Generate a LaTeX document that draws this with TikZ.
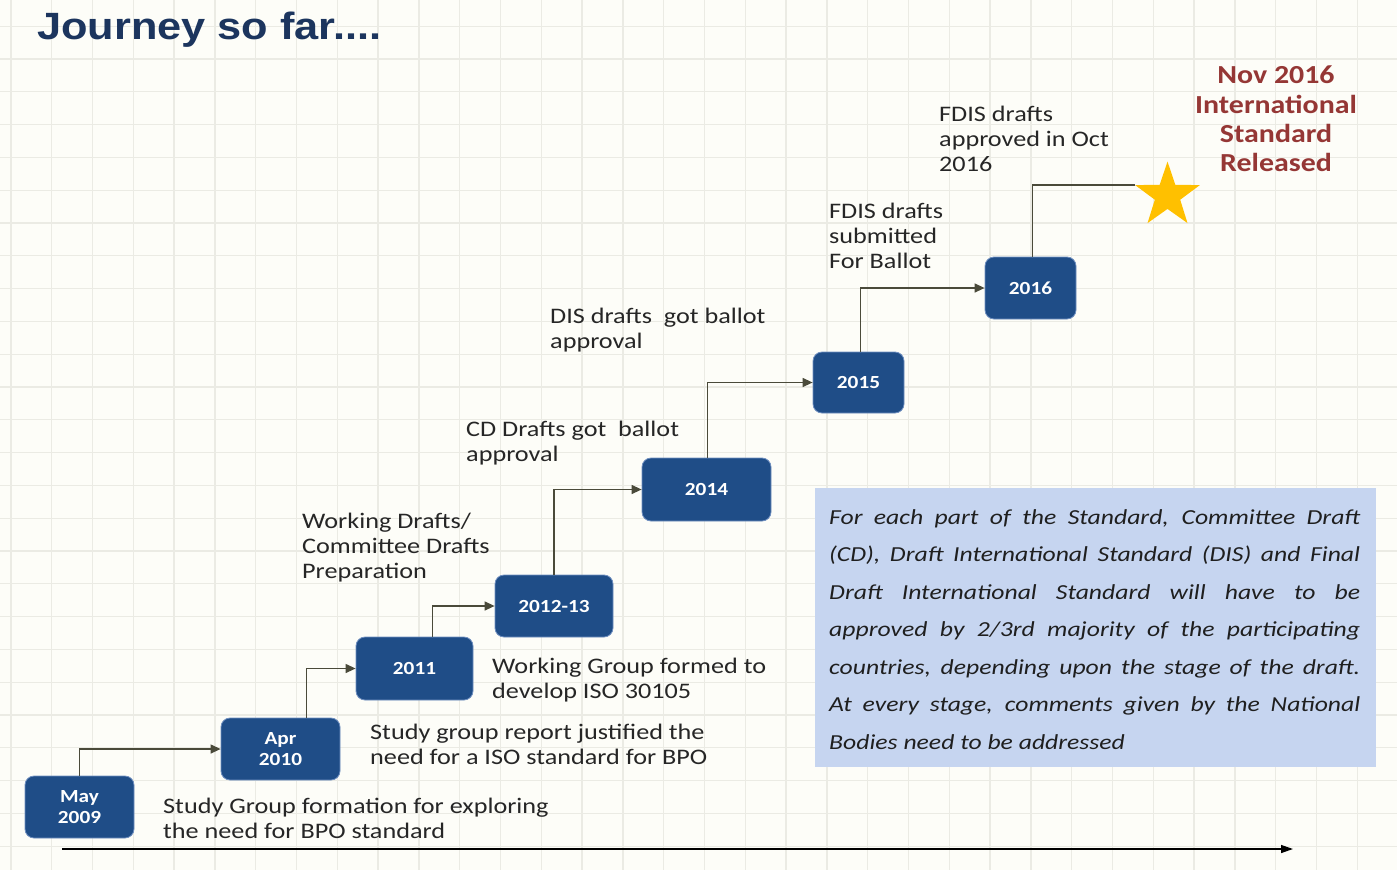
\documentclass[tikz,border=0pt]{standalone}
\usepackage{fontspec}
\setmainfont{Carlito}[FakeStretch=1.15]
\newfontfamily\labfont{Carlito}[FakeStretch=1.18]
\newfontfamily\notefont{Carlito}[FakeStretch=1.2]
\newfontfamily\titlefont{Liberation Sans}[FakeStretch=1.14]
\usetikzlibrary{arrows.meta,shapes.geometric}
\definecolor{bg}{HTML}{FDFDF8}
\definecolor{gridc}{HTML}{EBEBE4}
\definecolor{boxblue}{HTML}{1F4D87}
\definecolor{boxedge}{HTML}{6F8FC0}
\definecolor{conncol}{HTML}{4A4A3A}
\definecolor{navy}{HTML}{1C355E}
\definecolor{darkred}{HTML}{953735}
\definecolor{notefill}{HTML}{C6D5F0}
\definecolor{gold}{HTML}{FFC000}
\definecolor{labtext}{HTML}{262626}
\begin{document}
\begin{tikzpicture}[x=1pt,y=-1pt,
  gridline/.style={draw=gridc, line width=1.3pt},
  yearbox/.style={rounded corners=9pt, fill=boxblue, draw=boxedge, line width=0.8pt,
    text=white, font=\bfseries\fontsize{18.5}{21}\selectfont, align=center, inner sep=0pt},
  lab/.style={anchor=west, align=left, inner sep=0pt, text=labtext,
    font=\labfont\fontsize{22.2}{25}\selectfont},
  conn/.style={draw=conncol, line width=1.3pt, -{Triangle[length=10pt,width=9pt]}},
  plainconn/.style={draw=conncol, line width=1.3pt},
  timeline/.style={draw=black, line width=1.3pt, -{Triangle[length=12pt,width=8pt]}}
]
\useasboundingbox (0,0) rectangle (1397,870);
\fill[bg] (0,0) rectangle (1397,870);
\foreach \i in {0,...,34} \draw[gridline] ({10.9+40.8*\i},0) -- ({10.9+40.8*\i},870);
\foreach \j in {0,...,26} \draw[gridline] (0,{26.2+32.8*\j}) -- (1397,{26.2+32.8*\j});

% title
\node[anchor=base west, inner sep=0pt, text=navy,
  font=\titlefont\bfseries\fontsize{38}{40}\selectfont] (title) at (37,39) {Journey so far....};

% year boxes
\node[yearbox, minimum width=109pt, minimum height=62pt] (may) at (79.5,807) {May\\2009};
\node[yearbox, minimum width=119pt, minimum height=62pt] (apr) at (280.5,749) {Apr\\2010};
\node[yearbox, minimum width=117pt, minimum height=63pt] (y11) at (414.5,668.5) {2011};
\node[yearbox, minimum width=118pt, minimum height=62pt] (y1213) at (554,606) {2012-13};
\node[yearbox, minimum width=129pt, minimum height=63pt] (y14) at (706.5,489.5) {2014};
\node[yearbox, minimum width=91pt, minimum height=61pt] (y15) at (858.5,382.5) {2015};
\node[yearbox, minimum width=91pt, minimum height=62pt] (y16) at (1030.5,288) {2016};

% star
\node[star, star points=5, star point ratio=2.55, minimum size=68pt, inner sep=0pt,
  fill=gold, draw=none] (star) at (1167.5,195.6) {};

% connectors
\draw[conn] (may.north) |- (apr.west);
\draw[conn] ([xshift=26pt]apr.north) |- (y11.west);
\draw[conn] ([xshift=18pt]y11.north) |- (y1213.west);
\draw[conn] (y1213.north) |- (y14.west);
\draw[conn] ([xshift=1pt]y14.north) |- (y15.west);
\draw[conn] ([xshift=2pt]y15.north) |- (y16.west);
\draw[plainconn] ([xshift=2pt]y16.north) |- (star.outer point 2);

% labels
\node[lab] (l1) at (163,818) {Study Group formation for exploring\\the need for BPO standard};
\node[lab] (l2) at (370,744) {Study group report justified the\\need for a ISO standard for BPO};
\node[lab] (l3) at (492,680) {Working Group formed to\\develop ISO 30105};
\node[lab] (l4) at (302,548) {Working Drafts/\\Committee Drafts\\Preparation};
\node[lab] (l5) at (466,443) {CD Drafts got\ \ ballot\\approval};
\node[lab] (l6) at (550,330) {DIS drafts\ \ got ballot\\approval};
\node[lab] (l7) at (829,236) {FDIS drafts\\submitted\\For Ballot};
\node[lab] (l8) at (939,139) {FDIS drafts\\approved in Oct\\2016};
\node[align=center, inner sep=0pt, text=darkred,
  font=\bfseries\fontsize{26}{29.3}\selectfont] (release) at (1276,119)
  {Nov 2016\\International\\Standard\\Released};

% note box
\node[anchor=north west, fill=notefill, minimum width=561pt, minimum height=279pt,
  inner sep=0pt] (note) at (815,488) {};
\node[anchor=north west, inner sep=0pt, text width=531pt, align=justify, text=black!88,
  font=\notefont\itshape\fontsize{21.4}{37.5}\selectfont] (notetext) at (829,509)
  {\hyphenpenalty=10000\relax
   For each part of the Standard, Committee Draft\linebreak
   (CD), Draft International Standard (DIS) and Final\linebreak
   Draft International Standard will have to be\linebreak
   approved by 2/3rd majority of the participating\linebreak
   countries, depending upon the stage of the draft.\linebreak
   At every stage, comments given by the National\linebreak
   Bodies need to be addressed};

% timeline
\coordinate (t0) at (62,849);
\coordinate (t1) at (1293,849);
\draw[timeline] (t0) -- (t1);
\end{tikzpicture}
\end{document}
